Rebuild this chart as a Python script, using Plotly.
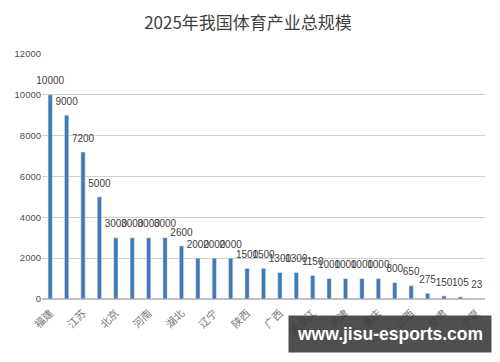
import plotly.graph_objects as go

title = "2025年我国体育产业总规模"
values = [10000, 9000, 7200, 5000, 3000, 3000, 3000, 3000, 2600, 2000, 2000, 2000,
          1500, 1500, 1300, 1300, 1150, 1000, 1000, 1000, 1000, 800, 650, 275, 150, 105, 23]
tick_labels = ["福建", "江苏", "北京", "河南", "湖北", "辽宁", "陕西", "广西",
               "黑龙江", "天津", "重庆", "山西", "甘肃", "宁夏"]
y_ticks = [0, 2000, 4000, 6000, 8000, 10000, 12000]

x = list(range(len(values)))
tickvals = x[::2]

fig = go.Figure()
fig.add_trace(go.Bar(x=x, y=values, marker_color="#3f7ab5", hoverinfo="y"))
fig.add_trace(go.Scatter(
    x=x, y=values, mode="markers+text",
    marker=dict(size=11, color="rgba(0,0,0,0)"),
    text=[str(v) for v in values],
    textposition="top center",
    cliponaxis=False, hoverinfo="skip",
    textfont=dict(size=10, color="#404040", family="Liberation Sans"),
))

fig.update_layout(
    width=500, height=362,
    margin=dict(l=34, r=23, t=46, b=71),
    paper_bgcolor="white", plot_bgcolor="white",
    bargap=0.74,
    showlegend=False,
    title=dict(text=title, x=0.48, xanchor="center", y=0.958, yanchor="middle",
               font=dict(size=17, color="#404040", family="Noto Sans CJK SC")),
    xaxis=dict(tickmode="array", tickvals=tickvals, ticktext=tick_labels,
               tickangle=-45, range=[-0.5, len(values) - 0.5], automargin=False,
               showgrid=False, showline=False, ticks="", ticklabelstandoff=5,
               tickfont=dict(size=10.5, color="#777777", family="Noto Sans CJK SC")),
    yaxis=dict(range=[0, 12000], tickvals=y_ticks, tickformat="d", showgrid=True,
               automargin=False,
               gridcolor="#d0d0d0", gridwidth=1, zeroline=True, zerolinecolor="#c0c0c0",
               ticks="", tickfont=dict(size=9.5, color="#505050", family="Liberation Sans")),
    annotations=[dict(text="<b>www.jisu-esports.com</b>", xref="paper", yref="paper",
                      x=0.785, y=-0.143, xanchor="center", yanchor="middle",
                      showarrow=False, bgcolor="rgba(60,60,60,0.9)",
                      width=200, height=34, borderpad=1,
                      font=dict(size=17.5, color="white", family="Liberation Sans"))],
)

fig.write_html("out.html")
